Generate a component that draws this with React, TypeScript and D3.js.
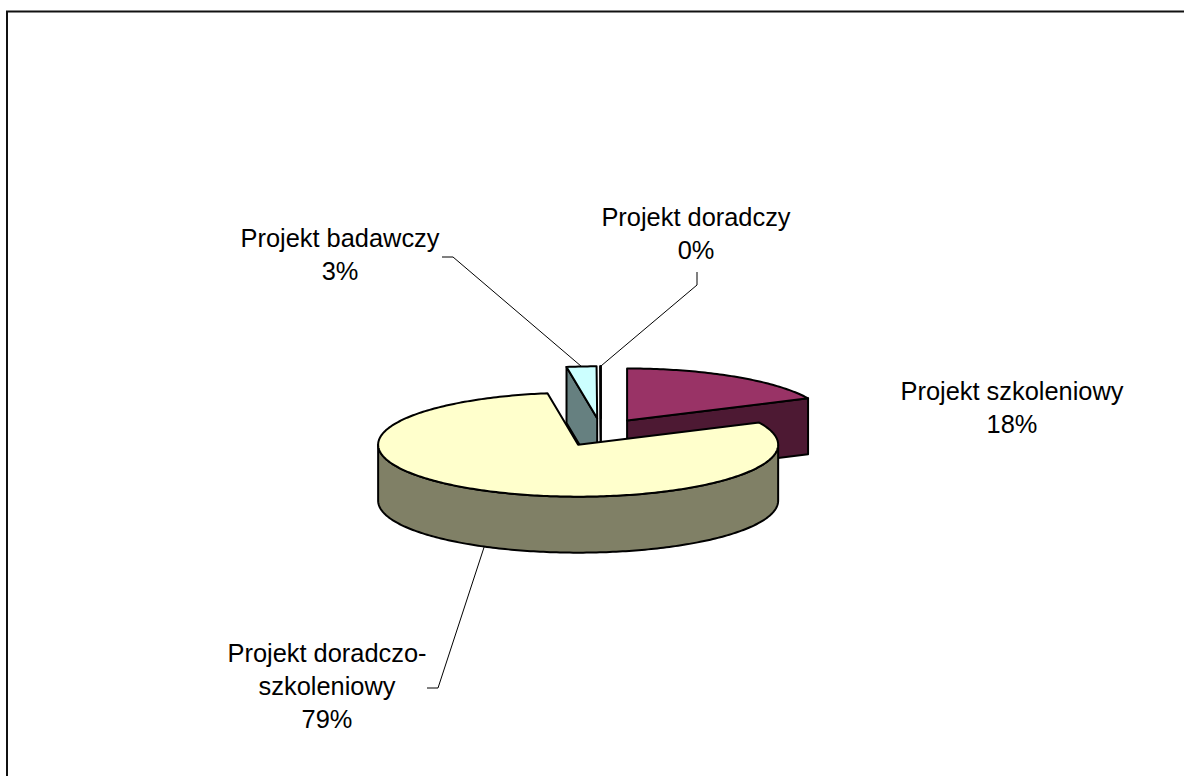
import React, { useEffect, useRef } from 'react';
import { select, pie, line, range } from 'd3';

// values (labels are rounded, the geometry tells the rest)
const categories = ['Projekt szkoleniowy', 'Projekt doradczo-szkoleniowy', 'Projekt badawczy', 'Projekt doradczy'];
const values = [18, 79.55, 2.4, 0.05];
const percentLabels = ['18%', '79%', '3%', '0%'];
const colors = ['#993366', '#ffffcc', '#ccffff', '#660066'];
const sideColors = ['#4d1933', '#808066', '#668080', '#330033'];
const labelLines = [
  ['Projekt szkoleniowy', '18%'],
  ['Projekt doradczo-', 'szkoleniowy', '79%'],
  ['Projekt badawczy', '3%'],
  ['Projekt doradczy', '0%'],
];

const width = 1184;
const height = 776;
const centerX = 601;
const centerY = 432.3;
const rx = 200;
const ry = 52;
const depth = 56;
const explodeX = 48.7;
const explodeY = 14;
const fontSize = 25.4;
const lineGap = 33;

// label centre x and first baseline
const labelPos = [
  [1012, 400],
  [327, 662],
  [340, 247],
  [696, 226],
];
// where each leader line starts, null = no leader
const leaderStart: (number[][] | null)[] = [
  null,
  [[427, 688], [438, 688]],
  [[442, 257], [453, 257]],
  [[697, 272], [697, 285]],
];

function App() {
  const svgRef = useRef<SVGSVGElement>(null);

  useEffect(() => {
    const svg = select(svgRef.current);
    svg.selectAll('*').remove();

    const slices = pie<number>().sort(null).startAngle(0).endAngle(Math.PI * 2)(values);
    const toPath = line<number[]>().x((d) => d[0]).y((d) => d[1]);

    const geo = slices.map((s) => {
      const mid = (s.startAngle + s.endAngle) / 2;
      const cx = centerX + explodeX * Math.sin(mid);
      const cy = centerY - explodeY * Math.cos(mid);
      const pt = (a: number, dy = 0) => [cx + rx * Math.sin(a), cy - ry * Math.cos(a) + dy];
      const rim = (a0: number, a1: number, dy = 0) => {
        const n = Math.max(2, Math.ceil(Math.abs(a1 - a0) * 60));
        return range(n + 1).map((i) => pt(a0 + ((a1 - a0) * i) / n, dy));
      };
      return { ...s, mid, cx, cy, pt, rim };
    });

    const chart = svg.append('g')
      .attr('stroke', '#000')
      .attr('stroke-width', 2)
      .attr('stroke-linejoin', 'round');

    // back slices first, the big one sits in front of all of them
    [3, 2, 0, 1].forEach((i) => {
      const g = geo[i];
      const g2 = chart.append('g');
      const face = (a: number) => {
        g2.append('path')
          .attr('d', toPath([[g.cx, g.cy], g.pt(a), g.pt(a, depth), [g.cx, g.cy + depth]]) + 'Z')
          .attr('fill', sideColors[i]);
      };
      if (Math.sin(g.startAngle) < 0) face(g.startAngle);
      if (Math.sin(g.endAngle) > 0.001) face(g.endAngle);

      // outer wall, only the part facing us
      const a0 = Math.max(g.startAngle, Math.PI / 2);
      const a1 = Math.min(g.endAngle, (Math.PI * 3) / 2);
      if (a1 > a0) {
        g2.append('path')
          .attr('d', toPath([...g.rim(a0, a1), ...g.rim(a1, a0, depth)]) + 'Z')
          .attr('fill', sideColors[i]);
      }

      g2.append('path')
        .attr('d', toPath([[g.cx, g.cy], ...g.rim(g.startAngle, g.endAngle)]) + 'Z')
        .attr('fill', colors[i]);
    });

    // leader lines end on the rim at the middle of the slice
    leaderStart.forEach((pts, i) => {
      if (!pts) return;
      const g = geo[i];
      const front = Math.cos(g.mid) < 0;
      svg.append('path')
        .attr('d', toPath([...pts, g.pt(g.mid, front ? depth : 0)]))
        .attr('fill', 'none')
        .attr('stroke', '#000')
        .attr('stroke-width', 1);
    });

    // labels
    const labels = svg.append('g')
      .attr('font-family', '"Liberation Sans", Arial, sans-serif')
      .attr('font-size', fontSize)
      .attr('text-anchor', 'middle')
      .attr('fill', '#000');
    labelLines.forEach((rows, i) => {
      rows.forEach((row, j) => {
        labels.append('text')
          .attr('x', labelPos[i][0])
          .attr('y', labelPos[i][1] + j * lineGap)
          .text(row);
      });
    });

    // chart area border, it runs off the right and bottom of the picture
    svg.append('path')
      .attr('d', toPath([[7, height], [7, 11.5], [width, 11.5]]))
      .attr('fill', 'none')
      .attr('stroke', '#111')
      .attr('stroke-width', 2);
  }, []);

  return (
    <svg
      ref={svgRef}
      width={width}
      height={height}
      style={{ position: 'absolute', left: 0, top: 0, background: '#fff' }}
      aria-label={categories.map((c, i) => `${c} ${percentLabels[i]}`).join(', ')}
    ></svg>
  );
}

export default App;
